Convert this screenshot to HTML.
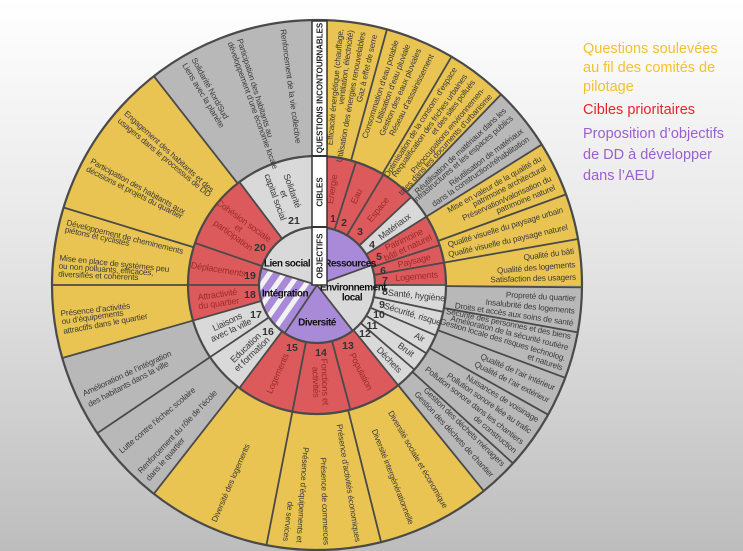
<!DOCTYPE html>
<html><head><meta charset="utf-8"><style>
html,body{margin:0;padding:0;}
body{width:743px;height:551px;overflow:hidden;background:linear-gradient(#ffffff 0%,#e6e6e6 45%,#bdbdbd 100%);font-family:"Liberation Sans",sans-serif;}
svg{position:absolute;left:0;top:0;}
.o{font-family:"Liberation Sans Narrow","Liberation Sans",sans-serif;font-size:8.2px;letter-spacing:-0.15px;fill:#3a3a3a;dominant-baseline:central;}
.c{font-family:"Liberation Sans Narrow","Liberation Sans",sans-serif;font-size:9px;letter-spacing:-0.2px;fill:#3a3a3a;text-anchor:middle;dominant-baseline:central;}
.r{fill:#9c2b2b;}
.n{font-family:"Liberation Sans",sans-serif;font-size:10.5px;font-weight:bold;fill:#333;text-anchor:middle;dominant-baseline:central;}
.i{font-family:"Liberation Sans Narrow","Liberation Sans",sans-serif;font-size:10px;letter-spacing:-0.5px;font-weight:bold;fill:#111;text-anchor:middle;dominant-baseline:central;}
.b{font-family:"Liberation Sans",sans-serif;font-size:8px;font-weight:bold;fill:#222;text-anchor:middle;dominant-baseline:central;}
.lg{font-family:"Liberation Sans",sans-serif;font-size:14.5px;}
</style></head><body>
<svg width="743" height="551" viewBox="0 0 743 551">
<defs>
<pattern id="st" patternUnits="userSpaceOnUse" width="12" height="12" patternTransform="rotate(35)">
<rect width="12" height="12" fill="#a98ad8"/><rect width="5" height="12" fill="#f2f2f2"/>
</pattern>
</defs>
<g transform="translate(317,285)">
<g fill="none" stroke-width="136">
<circle r="197" pathLength="360" stroke="#e9c452" stroke-dasharray="360 360"/>
<circle r="197" pathLength="360" stroke="#b8b8b8" stroke-dasharray="14 360" transform="rotate(-46)"/>
<circle r="197" pathLength="360" stroke="#b8b8b8" stroke-dasharray="51 360" transform="rotate(0)"/>
<circle r="197" pathLength="360" stroke="#b8b8b8" stroke-dasharray="36 360" transform="rotate(128)"/>
<circle r="197" pathLength="360" stroke="#b8b8b8" stroke-dasharray="38 360" transform="rotate(232)"/>
</g>
<g fill="none" stroke-width="71">
<circle r="93.5" pathLength="360" stroke="#dc5a5c" stroke-dasharray="360 360"/>
<circle r="93.5" pathLength="360" stroke="#d9d9d9" stroke-dasharray="11 360" transform="rotate(-43)"/>
<circle r="93.5" pathLength="360" stroke="#d9d9d9" stroke-dasharray="51 360" transform="rotate(0)"/>
<circle r="93.5" pathLength="360" stroke="#d9d9d9" stroke-dasharray="37 360" transform="rotate(127)"/>
<circle r="93.5" pathLength="360" stroke="#d9d9d9" stroke-dasharray="37 360" transform="rotate(233)"/>
</g>
<g fill="none" stroke-width="58">
<circle r="29" pathLength="360" stroke="#a98ad8" stroke-dasharray="360 360"/>
<circle r="29" pathLength="360" stroke="#d9d9d9" stroke-dasharray="72 360" transform="rotate(-20)"/>
<circle r="29" pathLength="360" stroke="#d9d9d9" stroke-dasharray="73 360" transform="rotate(197)"/>
</g>
<path d="M0,0 L-32.4,48.1 A58,58 0 0 1 -55.5,-17 Z" fill="url(#st)"/>
<g fill="none" stroke="#4a4a4a" stroke-width="2.2">
<circle r="265"/><circle r="129"/><circle r="58"/>
</g>
<g stroke="#4a4a4a" stroke-width="1.8">
<line x1="0" y1="-129" x2="0" y2="-265" transform="rotate(15.3)"/>
<line x1="0" y1="-129" x2="0" y2="-265" transform="rotate(30.5)"/>
<line x1="0" y1="-129" x2="0" y2="-265" transform="rotate(44)"/>
<line x1="0" y1="-129" x2="0" y2="-265" transform="rotate(58)"/>
<line x1="0" y1="-129" x2="0" y2="-265" transform="rotate(70)"/>
<line x1="0" y1="-129" x2="0" y2="-265" transform="rotate(80)"/>
<line x1="0" y1="-129" x2="0" y2="-265" transform="rotate(90.5)"/>
<line x1="0" y1="-129" x2="0" y2="-265" transform="rotate(100.3)"/>
<line x1="0" y1="-129" x2="0" y2="-265" transform="rotate(110.5)"/>
<line x1="0" y1="-129" x2="0" y2="-265" transform="rotate(119.3)"/>
<line x1="0" y1="-129" x2="0" y2="-265" transform="rotate(132.3)"/>
<line x1="0" y1="-129" x2="0" y2="-265" transform="rotate(141)"/>
<line x1="0" y1="-129" x2="0" y2="-265" transform="rotate(166)"/>
<line x1="0" y1="-129" x2="0" y2="-265" transform="rotate(191)"/>
<line x1="0" y1="-129" x2="0" y2="-265" transform="rotate(218)"/>
<line x1="0" y1="-129" x2="0" y2="-265" transform="rotate(236)"/>
<line x1="0" y1="-129" x2="0" y2="-265" transform="rotate(254)"/>
<line x1="0" y1="-129" x2="0" y2="-265" transform="rotate(270)"/>
<line x1="0" y1="-129" x2="0" y2="-265" transform="rotate(287)"/>
<line x1="0" y1="-129" x2="0" y2="-265" transform="rotate(322)"/>
</g>
<g stroke="#4a4a4a" stroke-width="1.8">
<line x1="0" y1="-58" x2="0" y2="-129" transform="rotate(17.6)"/>
<line x1="0" y1="-58" x2="0" y2="-129" transform="rotate(31)"/>
<line x1="0" y1="-58" x2="0" y2="-129" transform="rotate(47)"/>
<line x1="0" y1="-58" x2="0" y2="-129" transform="rotate(58)"/>
<line x1="0" y1="-58" x2="0" y2="-129" transform="rotate(72)"/>
<line x1="0" y1="-58" x2="0" y2="-129" transform="rotate(80)"/>
<line x1="0" y1="-58" x2="0" y2="-129" transform="rotate(90)"/>
<line x1="0" y1="-58" x2="0" y2="-129" transform="rotate(102)"/>
<line x1="0" y1="-58" x2="0" y2="-129" transform="rotate(113)"/>
<line x1="0" y1="-58" x2="0" y2="-129" transform="rotate(122)"/>
<line x1="0" y1="-58" x2="0" y2="-129" transform="rotate(131)"/>
<line x1="0" y1="-58" x2="0" y2="-129" transform="rotate(141)"/>
<line x1="0" y1="-58" x2="0" y2="-129" transform="rotate(165)"/>
<line x1="0" y1="-58" x2="0" y2="-129" transform="rotate(191)"/>
<line x1="0" y1="-58" x2="0" y2="-129" transform="rotate(217)"/>
<line x1="0" y1="-58" x2="0" y2="-129" transform="rotate(236)"/>
<line x1="0" y1="-58" x2="0" y2="-129" transform="rotate(254)"/>
<line x1="0" y1="-58" x2="0" y2="-129" transform="rotate(270)"/>
<line x1="0" y1="-58" x2="0" y2="-129" transform="rotate(289)"/>
<line x1="0" y1="-58" x2="0" y2="-129" transform="rotate(323)"/>
<line x1="0" y1="0" x2="0" y2="-58" transform="rotate(70)"/>
<line x1="0" y1="0" x2="0" y2="-58" transform="rotate(142)"/>
<line x1="0" y1="0" x2="0" y2="-58" transform="rotate(214)"/>
<line x1="0" y1="0" x2="0" y2="-58" transform="rotate(287)"/>
</g>

<g>
<text class="o" text-anchor="end" x="257" transform="rotate(-84.7)">Efficacité énergétique (chauffage,</text>
<text class="o" text-anchor="end" x="257" transform="rotate(-82.4)">ventilation, électricité)</text>
<text class="o" text-anchor="end" x="257" transform="rotate(-79.7)">Utilisation des énergies renouvelables</text>
<text class="o" text-anchor="end" x="257" transform="rotate(-77)">Gaz à effet de serre</text>
<text class="o" text-anchor="end" x="257" transform="rotate(-72)">Consommation d’eau potable</text>
<text class="o" text-anchor="end" x="257" transform="rotate(-69.3)">Utilisation d’eau pluviale</text>
<text class="o" text-anchor="end" x="257" transform="rotate(-66.6)">Gestion des eaux pluviales</text>
<text class="o" text-anchor="end" x="257" transform="rotate(-63.5)">Réseau d’assainissement</text>
<text class="o" text-anchor="end" x="257" transform="rotate(-57.5)">Optimisation de la consom. d’espace</text>
<text class="o" text-anchor="end" x="257" transform="rotate(-54.7)">Requalification des friches urbaines</text>
<text class="o" text-anchor="end" x="257" transform="rotate(-52.5)">et des sites pollués</text>
<text class="o" text-anchor="end" x="257" transform="rotate(-49.7)">Préoccupations environnemen-</text>
<text class="o" text-anchor="end" x="257" transform="rotate(-47.5)">tales dans les documents d’urbanisme</text>
<text class="o" text-anchor="end" x="257" transform="rotate(-43)">Réutilisation de matériaux dans les</text>
<text class="o" text-anchor="end" x="257" transform="rotate(-40.7)">infrastructures et les espaces publics</text>
<text class="o" text-anchor="end" x="257" transform="rotate(-37)">Réutilisation de matériaux</text>
<text class="o" text-anchor="end" x="257" transform="rotate(-34.7)">dans la construction/réhabilitation</text>
<text class="o" text-anchor="end" x="257" transform="rotate(-29.5)">Mise en valeur de la qualité du</text>
<text class="o" text-anchor="end" x="257" transform="rotate(-27.2)">patrimoine architectural</text>
<text class="o" text-anchor="end" x="257" transform="rotate(-24.5)">Préservation/valorisation du</text>
<text class="o" text-anchor="end" x="257" transform="rotate(-22.3)">patrimoine naturel</text>
<text class="o" text-anchor="end" x="257" transform="rotate(-17)">Qualité visuelle du paysage urbain</text>
<text class="o" text-anchor="end" x="257" transform="rotate(-13)">Qualité visuelle du paysage naturel</text>
<text class="o" text-anchor="end" x="259" transform="rotate(-7.5)">Qualité du bâti</text>
<text class="o" text-anchor="end" x="259" transform="rotate(-4.5)">Qualité des logements</text>
<text class="o" text-anchor="end" x="259" transform="rotate(-1.7)">Satisfaction des usagers</text>
<text class="o" text-anchor="end" x="259" transform="rotate(3)">Propreté du quartier</text>
<text class="o" text-anchor="end" x="259" transform="rotate(5.8)">Insalubrité des logements</text>
<text class="o" text-anchor="end" x="259" transform="rotate(8.5)">Droits et accès aux soins de santé</text>
<text class="o" text-anchor="end" x="259" transform="rotate(11.5)">Sécurité des personnes et des biens</text>
<text class="o" text-anchor="end" x="259" transform="rotate(14)">Amélioration de la sécurité routière</text>
<text class="o" text-anchor="end" x="259" transform="rotate(16.5)">Gestion locale des risques technolog.</text>
<text class="o" text-anchor="end" x="259" transform="rotate(18.7)">et naturels</text>
<text class="o" text-anchor="end" x="259" transform="rotate(23.5)">Qualité de l’air intérieur</text>
<text class="o" text-anchor="end" x="259" transform="rotate(26.5)">Qualité de l’air extérieur</text>
<text class="o" text-anchor="end" x="259" transform="rotate(31.5)">Nuisances de voisinage</text>
<text class="o" text-anchor="end" x="259" transform="rotate(34.5)">Pollution sonore liée au trafic</text>
<text class="o" text-anchor="end" x="259" transform="rotate(37.5)">Pollution sonore dans les chantiers</text>
<text class="o" text-anchor="end" x="259" transform="rotate(40)">de construction</text>
<text class="o" text-anchor="end" x="259" transform="rotate(44)">Gestion des déchets ménagers</text>
<text class="o" text-anchor="end" x="259" transform="rotate(47.5)">Gestion des déchets de chantier</text>
<text class="o" text-anchor="end" x="257" transform="rotate(60)">Diversité sociale et économique</text>
<text class="o" text-anchor="end" x="257" transform="rotate(68.5)">Diversité intergénérationnelle</text>
<text class="o" text-anchor="end" x="260" transform="rotate(81)">Présence d’activités économiques</text>
<text class="o" text-anchor="end" x="260" transform="rotate(88)">Présence de commerces</text>
<text class="o" text-anchor="end" x="258" transform="rotate(94)">Présence d’équipements et</text>
<text class="o" text-anchor="end" x="258" transform="rotate(97)">de services</text>
</g>
<g>
<text class="o" x="-258" transform="rotate(293.5)">Diversité des logements</text>
<text class="o" x="-258" transform="rotate(313.5)">Renforcement du rôle de l’école</text>
<text class="o" x="-258" transform="rotate(311)">dans le quartier</text>
<text class="o" x="-258" transform="rotate(319.7)">Lutte contre l’échec scolaire</text>
<text class="o" x="-258" transform="rotate(335)">Amélioration de l’intégration</text>
<text class="o" x="-258" transform="rotate(332.3)">des habitants dans la ville</text>
<text class="o" x="-258" transform="rotate(353.6)">Présence d’activités</text>
<text class="o" x="-258" transform="rotate(351.8)">ou d’équipements</text>
<text class="o" x="-258" transform="rotate(349.6)">attractifs dans le quartier</text>
<text class="o" x="-259" transform="rotate(6)">Mise en place de systèmes peu</text>
<text class="o" x="-259" transform="rotate(4.2)">ou non polluants, efficaces,</text>
<text class="o" x="-259" transform="rotate(2.4)">diversifiés et cohérents</text>
<text class="o" x="-258" transform="rotate(14)">Développement de cheminements</text>
<text class="o" x="-258" transform="rotate(12.4)">piétons et cyclistes</text>
<text class="o" x="-258" transform="rotate(28.8)">Participation des habitants aux</text>
<text class="o" x="-258" transform="rotate(26.8)">décisions et projets du quartier</text>
<text class="o" x="-258" transform="rotate(42)">Engagement des habitants et des</text>
<text class="o" x="-258" transform="rotate(39.8)">usagers dans le processus de DD</text>
<text class="o" x="-258" transform="rotate(61.4)">Solidarité Nord/Sud</text>
<text class="o" x="-258" transform="rotate(59)">Liens avec la planète</text>
<text class="o" x="-258" transform="rotate(72.5)">Participation des habitants au</text>
<text class="o" x="-258" transform="rotate(70.3)">développement d’une économie locale</text>
<text class="o" x="-258" transform="rotate(82.4)">Renforcement de la vie collective</text>
</g>

<text class="c r" x="97" transform="rotate(-81)">Energie</text>
<text class="c r" x="97" transform="rotate(-66)">Eau</text>
<text class="c r" x="97" transform="rotate(-51)">Espace</text>
<text class="c" x="97" transform="rotate(-37)">Matériaux</text>
<text class="c r" x="98" transform="rotate(-25)"><tspan x="98" dy="-4.5">Patrimoine</tspan><tspan x="98" dy="9">bâti et naturel</tspan></text>
<text class="c r" x="100" transform="rotate(-14)">Paysage</text>
<text class="c r" x="100" transform="rotate(-5)">Logements</text>
<text class="c" x="100" transform="rotate(6)">Santé, hygiène</text>
<text class="c" x="100" transform="rotate(17)">Sécurité, risque</text>
<text class="c" x="115" transform="rotate(27)">Air</text>
<text class="c" x="110" transform="rotate(36)">Bruit</text>
<text class="c" x="104" transform="rotate(46)">Déchets</text>
<text class="c r" x="97" transform="rotate(63)">Population</text>
<text class="c r" x="97" transform="rotate(88)"><tspan x="97" dy="-4.5">Fonctions et</tspan><tspan x="97" dy="9">activités</tspan></text>
<text class="c r" x="-97" transform="rotate(294)">Logements</text>
<text class="c" x="-95" transform="rotate(316)"><tspan x="-95" dy="-4.5">Education</tspan><tspan x="-95" dy="9">et formation</tspan></text>
<text class="c" x="-97" transform="rotate(335)"><tspan x="-97" dy="-4.5">Liaisons</tspan><tspan x="-97" dy="9">avec la ville</tspan></text>
<text class="c r" x="-100" transform="rotate(352)"><tspan x="-100" dy="-4.5">Attractivité</tspan><tspan x="-100" dy="9">du quartier</tspan></text>
<text class="c r" x="-100" transform="rotate(9)">Déplacements</text>
<text class="c r" x="-97" transform="rotate(36)"><tspan x="-97" dy="-9">Cohésion sociale</tspan><tspan x="-97" dy="9">et</tspan><tspan x="-97" dy="9">participation</tspan></text>
<text class="c" x="-97" transform="rotate(70)"><tspan x="-97" dy="-9">Solidarité</tspan><tspan x="-97" dy="9">et</tspan><tspan x="-97" dy="9">capital social</tspan></text>
</g>

<g>
<text class="n" x="333" y="219">1</text><text class="n" x="344" y="223">2</text><text class="n" x="360" y="232">3</text>
<text class="n" x="372" y="245">4</text><text class="n" x="379" y="257">5</text><text class="n" x="383" y="271">6</text>
<text class="n" x="385" y="281">7</text><text class="n" x="385" y="292">8</text><text class="n" x="382" y="305">9</text>
<text class="n" x="379" y="315">10</text><text class="n" x="372" y="326">11</text><text class="n" x="365" y="334">12</text>
<text class="n" x="348" y="346">13</text><text class="n" x="321" y="353">14</text><text class="n" x="292" y="348">15</text>
<text class="n" x="268" y="332">16</text><text class="n" x="256" y="315">17</text><text class="n" x="250" y="295">18</text>
<text class="n" x="250" y="276">19</text><text class="n" x="260" y="248">20</text><text class="n" x="294" y="221">21</text>
</g>

<text class="i" x="287" y="264">Lien social</text>
<text class="i" x="350" y="264">Ressources</text>
<text class="i" x="285" y="294">Intégration</text>
<text class="i" x="353" y="288">Environnement</text>
<text class="i" x="352" y="298">local</text>
<text class="i" x="317" y="323">Diversité</text>

<rect x="312" y="21" width="15" height="264" fill="#fff" stroke="#333" stroke-width="1.5"/>
<line x1="312" y1="156" x2="327" y2="156" stroke="#333" stroke-width="2"/>
<line x1="312" y1="227" x2="327" y2="227" stroke="#333" stroke-width="2"/>
<text class="b" transform="translate(320,88) rotate(-90)">QUESTIONS INCONTOURNABLES</text>
<text class="b" transform="translate(320,192) rotate(-90)">CIBLES</text>
<text class="b" transform="translate(320,256) rotate(-90)">OBJECTIFS</text>

<g class="lg">
<text x="583" y="53" fill="#f2c12e">Questions soulevées</text>
<text x="583" y="72" fill="#f2c12e">au fil des comités de</text>
<text x="583" y="91" fill="#f2c12e">pilotage</text>
<text x="583" y="114" fill="#e4262c">Cibles prioritaires</text>
<text x="583" y="138" fill="#9b5fd3">Proposition d’objectifs</text>
<text x="583" y="159" fill="#9b5fd3">de DD à développer</text>
<text x="583" y="180" fill="#9b5fd3">dans l’AEU</text>
</g>
</svg>
</body></html>
